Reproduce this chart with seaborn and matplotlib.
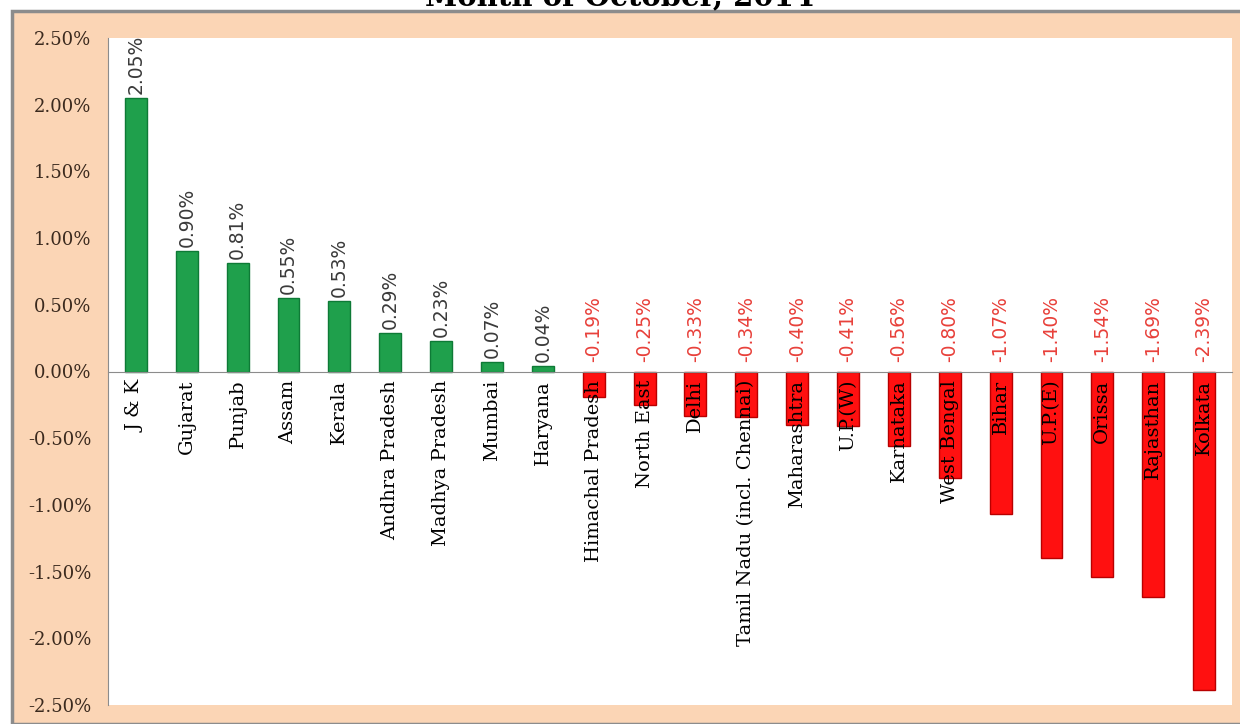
import seaborn as sns
import matplotlib.pyplot as plt
import matplotlib.patches as mpatches
from matplotlib.ticker import FixedLocator
import pandas as pd

# Data
regions = ['J & K', 'Gujarat', 'Punjab', 'Assam', 'Kerala', 'Andhra Pradesh',
           'Madhya Pradesh', 'Mumbai', 'Haryana', 'Himachal Pradesh', 'North East',
           'Delhi', 'Tamil Nadu (incl. Chennai)', 'Maharashtra', 'U.P.(W)',
           'Karnataka', 'West Bengal', 'Bihar', 'U.P.(E)', 'Orissa', 'Rajasthan',
           'Kolkata']
growth = [2.05, 0.90, 0.81, 0.55, 0.53, 0.29, 0.23, 0.07, 0.04, -0.19, -0.25,
          -0.33, -0.34, -0.40, -0.41, -0.56, -0.80, -1.07, -1.40, -1.54, -1.69,
          -2.39]
y_ticks = [2.5, 2.0, 1.5, 1.0, 0.5, 0.0, -0.5, -1.0, -1.5, -2.0, -2.5]

df = pd.DataFrame({'Region': regions, 'Growth': growth})
df['Sign'] = ['up' if v >= 0 else 'down' for v in df['Growth']]

sns.set_style('white')
plt.rcParams['font.family'] = ['DejaVu Serif']

fig = plt.figure(figsize=(12.4, 7.24), dpi=100, facecolor='white')

# peach frame behind the plot
frame = mpatches.Rectangle((12 / 1240, 0), 1, (724 - 11) / 724, transform=fig.transFigure,
                           facecolor='#FBD5B5', edgecolor='#8C8C8C', linewidth=2.5, zorder=-5)
fig.patches.append(frame)

# title, cut at the top edge as in the source
fig.text(0.5, 1 - 5 / 724, 'Month of October, 2014', ha='center', va='baseline',
         fontsize=21, fontweight='bold', family='DejaVu Serif', color='black')

ax = fig.add_axes([108 / 1240, (724 - 705) / 724, (1232 - 108) / 1240, (705 - 38) / 724])
ax.set_zorder(2)
ax.set_facecolor('white')

sns.barplot(data=df, x='Region', y='Growth', hue='Sign',
            palette={'up': '#1FA04C', 'down': '#FF1010'}, width=0.43,
            dodge=False, legend=False, ax=ax, saturation=1)

for p, v in zip(ax.patches, growth):
    p.set_edgecolor('#0E7A36' if v >= 0 else '#B80000')
    p.set_linewidth(1.0)

# value labels, rotated
for i, v in enumerate(growth):
    if v >= 0:
        ax.annotate(f'{v:.2f}%', (i, v), xytext=(0, 3), textcoords='offset points',
                    rotation=90, ha='center', va='bottom', fontsize=13.5,
                    family='DejaVu Sans', color='#3A3A3A')
    else:
        ax.annotate(f'{v:.2f}%', (i, 0), xytext=(0, 7), textcoords='offset points',
                    rotation=90, ha='center', va='bottom', fontsize=13.5,
                    family='DejaVu Sans', color='#E8403A')

ax.set_ylim(-2.5, 2.5)
ax.set_xlim(-0.55, len(regions) - 0.45)
ax.set_yticks(y_ticks)
ax.set_yticklabels([f'{t:.2f}%' for t in y_ticks], fontsize=13, color='#3B2A1E')

# category names sit on top of the bars
ax.set_axisbelow(False)
ax.spines['top'].set_visible(False)
ax.spines['right'].set_visible(False)
ax.spines['bottom'].set_position(('data', 0))
ax.spines['bottom'].set_color('#8C8C8C')
ax.spines['left'].set_color('#8C8C8C')

ax.tick_params(axis='y', direction='out', length=5, color='#8C8C8C', pad=7)
ax.tick_params(axis='x', which='major', length=0, pad=6)
ax.xaxis.set_minor_locator(FixedLocator([i + 0.5 for i in range(-1, len(regions))]))
ax.tick_params(axis='x', which='minor', direction='out', length=4, color='#8C8C8C')
ax.set_xticks(range(len(regions)))
ax.set_xticklabels(regions, rotation=90, fontsize=14, color='black', va='top')

ax.set_xlabel('')
ax.set_ylabel('')

fig.savefig('out.png', dpi=100, facecolor=fig.get_facecolor())
